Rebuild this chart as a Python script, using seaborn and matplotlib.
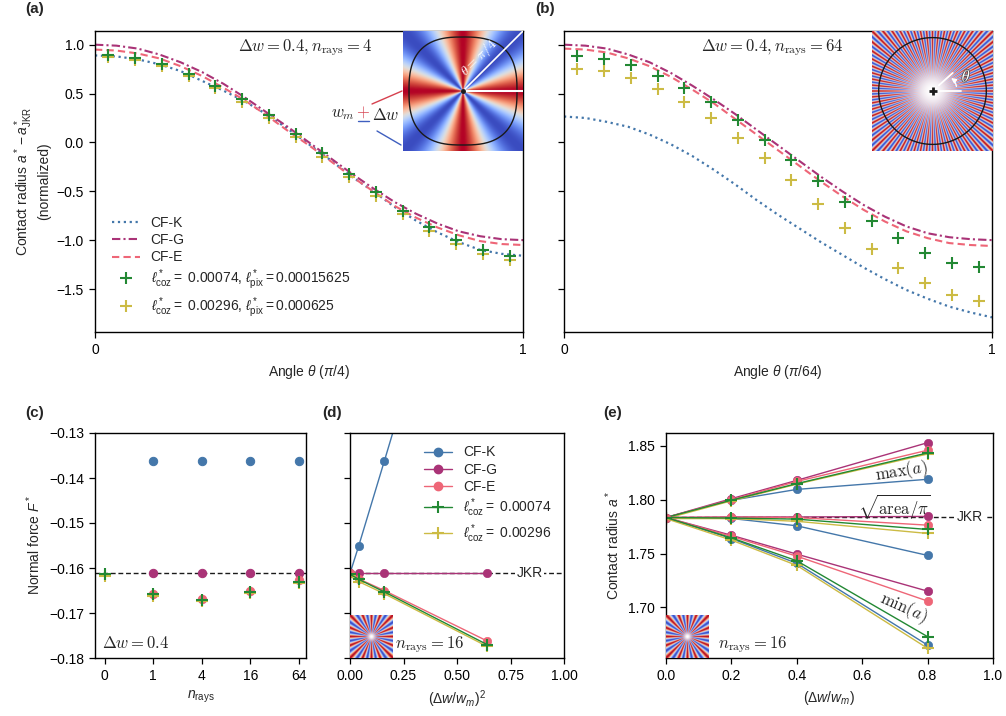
import numpy as np
import matplotlib
matplotlib.use('Agg')
import matplotlib.pyplot as plt
import seaborn as sns
from matplotlib.lines import Line2D
import matplotlib.patheffects as pe

# ---------------- data ----------------
theta_grid = np.linspace(0, 1, 21)
theta_pts = (np.arange(16) + 0.5) / 16

# panel (a): n_rays = 4
cfk_a = [0.89, 0.88, 0.85, 0.80, 0.73, 0.63, 0.53, 0.42, 0.29, 0.14, -0.02,
         -0.18, -0.35, -0.50, -0.66, -0.80, -0.92, -1.02, -1.10, -1.14, -1.16]
cfg_a = [1.00, 0.99, 0.96, 0.90, 0.82, 0.72, 0.60, 0.46, 0.31, 0.16, 0.00,
         -0.16, -0.32, -0.47, -0.61, -0.73, -0.83, -0.91, -0.96, -0.99, -1.00]
cfe_a = [0.95, 0.94, 0.91, 0.86, 0.78, 0.68, 0.56, 0.43, 0.28, 0.12, -0.03,
         -0.19, -0.35, -0.50, -0.65, -0.77, -0.87, -0.95, -1.01, -1.04, -1.05]
coz1_a = [0.89, 0.86, 0.80, 0.70, 0.58, 0.44, 0.28, 0.09, -0.11, -0.32, -0.51,
          -0.70, -0.87, -1.00, -1.10, -1.16]
coz2_a = [0.875, 0.84, 0.78, 0.68, 0.56, 0.415, 0.25, 0.06, -0.15, -0.35, -0.55,
          -0.73, -0.91, -1.04, -1.14, -1.20]

# panel (b): n_rays = 64
cfk_b = [0.265, 0.25, 0.21, 0.16, 0.08, -0.02, -0.14, -0.28, -0.43, -0.59, -0.74,
         -0.88, -1.02, -1.15, -1.28, -1.40, -1.51, -1.60, -1.68, -1.74, -1.79]
cfg_b = [1.00, 0.99, 0.96, 0.90, 0.82, 0.71, 0.58, 0.44, 0.29, 0.13, -0.03,
         -0.19, -0.35, -0.50, -0.64, -0.76, -0.86, -0.93, -0.97, -0.99, -1.00]
cfe_b = [0.96, 0.95, 0.92, 0.86, 0.78, 0.67, 0.54, 0.40, 0.24, 0.08, -0.08,
         -0.24, -0.40, -0.55, -0.69, -0.81, -0.91, -0.98, -1.03, -1.05, -1.06]
coz1_b = [0.88, 0.85, 0.79, 0.68, 0.56, 0.41, 0.23, 0.02, -0.18, -0.39, -0.61,
          -0.80, -0.98, -1.13, -1.23, -1.27]
coz2_b = [0.75, 0.73, 0.66, 0.55, 0.41, 0.25, 0.05, -0.16, -0.38, -0.63, -0.88,
          -1.09, -1.28, -1.44, -1.56, -1.62]

# panel (c): normal force vs n_rays (dw = 0.4)
nrays_labels = ['0', '1', '4', '16', '64']
f_cfk = [-0.1363, -0.1363, -0.1363, -0.1363]      # n_rays = 1..64
f_cfg = [-0.1612, -0.1612, -0.1612, -0.1612]
f_cfe = [-0.1657, -0.1668, -0.1650, -0.1626]
f_coz1 = [-0.1614, -0.1658, -0.1670, -0.1653, -0.1630]   # n_rays = 0..64
f_coz2 = [-0.1618, -0.1662, -0.1673, -0.1656, -0.1634]
f_jkr = -0.1612

# panel (d): normal force vs (dw/wm)^2 (n_rays = 16)
dw2 = [0, 0.04, 0.16, 0.64]
d_cfk = [-0.1612, -0.1552, -0.1363, -0.0600]
d_cfg = [-0.1612, -0.1612, -0.1612, -0.1612]
d_cfe = [-0.1612, -0.1624, -0.1650, -0.1762]
d_coz1 = [-0.1614, -0.1625, -0.1653, -0.1770]
d_coz2 = [-0.1618, -0.1630, -0.1657, -0.1774]

# panel (e): contact radius vs dw/wm (n_rays = 16)
dw = [0, 0.2, 0.4, 0.8]
a_jkr = 1.784
amax = {'K': [1.7835, 1.7995, 1.8096, 1.8190],
        'G': [1.7835, 1.8010, 1.8180, 1.8530],
        'E': [1.7835, 1.8000, 1.8170, 1.8460],
        'c2': [1.7825, 1.7990, 1.8145, 1.8425],
        'c1': [1.7835, 1.7996, 1.8150, 1.8435]}
amean = {'K': [1.7835, 1.7826, 1.7758, 1.7483],
         'G': [1.7835, 1.7840, 1.7840, 1.7845],
         'E': [1.7835, 1.7838, 1.7835, 1.7764],
         'c2': [1.7825, 1.7825, 1.7800, 1.7687],
         'c1': [1.7835, 1.7830, 1.7820, 1.7724]}
amin = {'K': [1.7835, 1.7640, 1.7410, 1.6650],
        'G': [1.7835, 1.7670, 1.7495, 1.7151],
        'E': [1.7835, 1.7660, 1.7476, 1.7059],
        'c2': [1.7825, 1.7625, 1.7390, 1.6620],
        'c1': [1.7835, 1.7646, 1.7433, 1.6728]}

C = {'K': '#4477AA', 'G': '#AA3377', 'E': '#EE6677', 'c1': '#228833', 'c2': '#CCBB44'}
DOT = ':'
DASHDOT = (0, (4, 1.5, 1, 1.5))
DASH = (0, (3.5, 2))

# ---------------- style ----------------
sns.set_theme(style='ticks')
plt.rcParams['font.family'] = ['Liberation Sans', 'DejaVu Sans']
plt.rcParams.update({
    'mathtext.fontset': 'custom',
    'mathtext.rm': 'Liberation Sans',
    'mathtext.it': 'Liberation Sans:italic',
    'mathtext.bf': 'Liberation Sans:bold',
    'font.size': 10, 'axes.labelsize': 10, 'xtick.labelsize': 10,
    'ytick.labelsize': 10, 'legend.fontsize': 10,
    'axes.linewidth': 1.0, 'xtick.major.size': 4.5, 'ytick.major.size': 4.5,
    'xtick.major.width': 0.9, 'ytick.major.width': 0.9,
    'axes.edgecolor': 'black', 'xtick.color': 'black', 'ytick.color': 'black',
    'axes.unicode_minus': True,
})

W, H = 1006, 716


def px(l, t, r, b):
    return [l / W, 1 - b / H, (r - l) / W, (b - t) / H]


def fx(x):
    return x / W


def fy(y):
    return 1 - y / H


def fmt(n):
    return matplotlib.ticker.FuncFormatter(lambda v, _: f'{v:.{n}f}'.replace('-', '\u2212'))


def ray_image(n, size, fade):
    yy, xx = np.mgrid[-1:1:size * 1j, -1:1:size * 1j]
    th = np.arctan2(yy, xx)
    r = np.hypot(xx, yy)
    rgba = plt.cm.coolwarm((np.cos(n * th) + 1) / 2)
    if fade > 0:
        w = np.exp(-(r / fade) ** 2)[..., None]
        rgba[..., :3] = rgba[..., :3] * (1 - w) + w
    return rgba


fig = plt.figure(figsize=(W / 100, H / 100), dpi=100)
ax_a = fig.add_axes(px(95, 31, 523, 332))
ax_b = fig.add_axes(px(564, 31, 992, 332), sharey=ax_a)
ax_c = fig.add_axes(px(95, 433, 306, 658))
ax_d = fig.add_axes(px(350, 433, 564, 658), sharey=ax_c)
ax_e = fig.add_axes(px(666, 433, 993, 658))

# ---------------- (a), (b) ----------------
for ax, k, g, e, c1, c2 in [(ax_a, cfk_a, cfg_a, cfe_a, coz1_a, coz2_a),
                            (ax_b, cfk_b, cfg_b, cfe_b, coz1_b, coz2_b)]:
    sns.lineplot(x=theta_grid, y=k, ax=ax, color=C['K'], linestyle=DOT, lw=1.6)
    sns.lineplot(x=theta_grid, y=g, ax=ax, color=C['G'], linestyle=DASHDOT, lw=1.5)
    sns.lineplot(x=theta_grid, y=e, ax=ax, color=C['E'], linestyle=DASH, lw=1.5)
    sns.lineplot(x=theta_pts, y=c2, ax=ax, color=C['c2'], linestyle='', marker='+',
                 ms=8, mew=1.5, mec=C['c2'])
    sns.lineplot(x=theta_pts, y=c1, ax=ax, color=C['c1'], linestyle='', marker='+',
                 ms=8, mew=1.5, mec=C['c1'])
    ax.set_xlim(0, 1)
    ax.set_xticks([0, 1], ['0', '1'])

ax_a.set_ylim(-1.94, 1.14)
ax_a.set_yticks([-1.5, -1.0, -0.5, 0.0, 0.5, 1.0])
ax_a.yaxis.set_major_formatter(fmt(1))
ax_b.tick_params(labelleft=False)
ax_a.set_xlabel(r'Angle $\theta$ $(\pi/4)$')
ax_b.set_xlabel(r'Angle $\theta$ $(\pi/64)$')
ax_a.set_ylabel('Contact radius $a^*-a^*_{\\rm JKR}$\n(normalized)')
ax_a.text(0.49, 0.944, r'$\Delta w = 0.4, n_{\rm rays} = 4$', transform=ax_a.transAxes,
          ha='center', va='center', fontsize=12, math_fontfamily='cm')
ax_b.text(0.486, 0.944, r'$\Delta w = 0.4, n_{\rm rays} = 64$', transform=ax_b.transAxes,
          ha='center', va='center', fontsize=12, math_fontfamily='cm')

handles_a = [Line2D([], [], color=C['K'], ls=DOT, lw=1.6),
             Line2D([], [], color=C['G'], ls=DASHDOT, lw=1.5),
             Line2D([], [], color=C['E'], ls=DASH, lw=1.5),
             Line2D([], [], color=C['c1'], ls='', marker='+', ms=8, mew=1.5),
             Line2D([], [], color=C['c2'], ls='', marker='+', ms=8, mew=1.5)]
labels_a = ['CF-K', 'CF-G', 'CF-E',
            r'$\ell^*_{\rm coz} =$ 0.00074, $\ell^*_{\rm pix} = 0.00015625$',
            r'$\ell^*_{\rm coz} =$ 0.00296, $\ell^*_{\rm pix} = 0.000625$']
ax_a.legend(handles_a, labels_a, loc='lower left', bbox_to_anchor=(0.01, 0.0),
            frameon=False, handlelength=2.0, labelspacing=0.22)

# inset (a)
ia = fig.add_axes(px(403, 31, 523, 151))
ia.imshow(ray_image(4, 300, 0), extent=[-1, 1, -1, 1], origin='lower',
          interpolation='bilinear', aspect='auto')
phi = np.linspace(0, 2 * np.pi, 400)
p = 2.7
rr = 0.9 / (np.abs(np.cos(phi)) ** p + np.abs(np.sin(phi)) ** p) ** (1 / p)
ia.plot(rr * np.cos(phi), rr * np.sin(phi), color='k', lw=1.0)
ia.plot([0, 1], [0, 0], color='w', lw=1.5)
ia.plot([0, 1], [0, 1], color='w', lw=1.2)
ia.plot([0], [0], marker='o', color='k', ms=2.5)
ia.text(0.26, 0.56, r'$\theta = \pi/4$', rotation=45, color='w', fontsize=10,
        ha='center', va='center', math_fontfamily='cm')
ia.set_xlim(-1, 1)
ia.set_ylim(-1, 1)
ia.set_axis_off()

fig.text(fx(343), fy(115), r'$w_m$', ha='center', va='center', fontsize=12,
         math_fontfamily='cm')
fig.text(fx(363), fy(112), r'$+$', ha='center', va='center', fontsize=12,
         color='#D6404E', math_fontfamily='cm')
fig.add_artist(Line2D([fx(358), fx(369)], [fy(121), fy(121)], color='#3F5FBF', lw=1.0))
fig.text(fx(386), fy(115), r'$\Delta w$', ha='center', va='center', fontsize=12,
         math_fontfamily='cm')
fig.add_artist(Line2D([fx(372), fx(402)], [fy(104), fy(91)], color='#D6404E', lw=1.0))
fig.add_artist(Line2D([fx(377), fx(401)], [fy(131), fy(145)], color='#3F5FBF', lw=1.0))

# inset (b)
ib = fig.add_axes(px(872, 31, 993, 151))
ib.imshow(ray_image(64, 700, 0.38), extent=[-1, 1, -1, 1], origin='lower',
          interpolation='antialiased', aspect='auto')
ib.plot(0.89 * np.cos(phi), 0.89 * np.sin(phi), color='k', lw=1.0)
ib.plot([0.08, 0.47], [0, 0], color='w', lw=1.3)
ang = np.deg2rad(42)
ib.plot([0.14 * np.cos(ang), 0.45 * np.cos(ang)], [0.14 * np.sin(ang), 0.45 * np.sin(ang)],
        color='w', lw=1.3)
ib.annotate('', xy=(0.36 * np.cos(ang), 0.36 * np.sin(ang)), xytext=(0.40, 0.03),
            arrowprops=dict(arrowstyle='-|>', color='w', lw=1.0,
                            connectionstyle='arc3,rad=0.3', mutation_scale=7))
ib.text(0.56, 0.24, r'$\theta$', color='w', fontsize=12, ha='center', va='center',
        math_fontfamily='cm',
        path_effects=[pe.withStroke(linewidth=1.2, foreground='#555555')])
ib.plot([0], [0], marker='+', color='k', ms=6, mew=2)
ib.set_xlim(-1, 1)
ib.set_ylim(-1, 1)
ib.set_axis_off()

# ---------------- (c) ----------------
pos = np.arange(5)
sns.lineplot(x=pos[1:], y=f_cfk, ax=ax_c, color=C['K'], linestyle='', marker='o',
             ms=6, mec=C['K'])
sns.lineplot(x=pos[1:], y=f_cfg, ax=ax_c, color=C['G'], linestyle='', marker='o',
             ms=6, mec=C['G'])
sns.lineplot(x=pos[1:], y=f_cfe, ax=ax_c, color=C['E'], linestyle='', marker='o',
             ms=6, mec=C['E'])
sns.lineplot(x=pos, y=f_coz2, ax=ax_c, color=C['c2'], linestyle='', marker='+',
             ms=8, mew=1.5, mec=C['c2'])
sns.lineplot(x=pos, y=f_coz1, ax=ax_c, color=C['c1'], linestyle='', marker='+',
             ms=8, mew=1.5, mec=C['c1'])
ax_c.axhline(f_jkr, color='k', lw=1.0, ls=(0, (3.5, 2)), zorder=1)
ax_c.set_xticks(pos, nrays_labels)
ax_c.set_xlim(-0.2, 4.15)
ax_c.set_ylim(-0.18, -0.13)
ax_c.set_yticks([-0.18, -0.17, -0.16, -0.15, -0.14, -0.13])
ax_c.yaxis.set_major_formatter(fmt(2))
ax_c.set_xlabel(r'$n_{\rm rays}$')
ax_c.set_ylabel(r'Normal force $F^*$')
ax_c.text(0.035, 0.065, r'$\Delta w = 0.4$', transform=ax_c.transAxes, ha='left',
          va='center', fontsize=12, math_fontfamily='cm')

# ---------------- (d) ----------------
series_d = [('K', d_cfk, 'o'), ('G', d_cfg, 'o'), ('E', d_cfe, 'o'),
            ('c2', d_coz2, '+'), ('c1', d_coz1, '+')]
for key, vals, m in series_d:
    sns.lineplot(x=dw2, y=vals, ax=ax_d, color=C[key], lw=1.0, marker=m,
                 ms=6 if m == 'o' else 8, mew=1.5 if m == '+' else 0.5, mec=C[key])
ax_d.axhline(f_jkr, color='k', lw=1.0, ls=(0, (3.5, 2)), zorder=1)
ax_d.text(0.84, f_jkr, 'JKR', ha='center', va='center', fontsize=10,
          bbox=dict(facecolor='white', edgecolor='none', pad=1.0))
ax_d.set_xlim(0, 1)
ax_d.set_xticks([0, 0.25, 0.5, 0.75, 1.0], ['0.00', '0.25', '0.50', '0.75', '1.00'])
ax_d.tick_params(labelleft=False)
ax_d.set_xlabel(r'$(\Delta w/w_m)^2$')
handles_d = [Line2D([], [], color=C['K'], lw=1.0, marker='o', ms=6),
             Line2D([], [], color=C['G'], lw=1.0, marker='o', ms=6),
             Line2D([], [], color=C['E'], lw=1.0, marker='o', ms=6),
             Line2D([], [], color=C['c1'], lw=1.0, marker='+', ms=8, mew=1.5),
             Line2D([], [], color=C['c2'], lw=1.0, marker='+', ms=8, mew=1.5)]
labels_d = ['CF-K', 'CF-G', 'CF-E', r'$\ell^*_{\rm coz} =$ 0.00074',
            r'$\ell^*_{\rm coz} =$ 0.00296']
ax_d.legend(handles_d, labels_d, loc='upper right', bbox_to_anchor=(1.0, 1.0),
            frameon=False, handlelength=2.0, labelspacing=0.22)

# ---------------- (e) ----------------
for group in (amax, amean, amin):
    for key in ('K', 'G', 'E', 'c2', 'c1'):
        m = '+' if key.startswith('c') else 'o'
        sns.lineplot(x=dw, y=group[key], ax=ax_e, color=C[key], lw=1.0, marker=m,
                     ms=6 if m == 'o' else 8, mew=1.5 if m == '+' else 0.5, mec=C[key])
ax_e.axhline(a_jkr, color='k', lw=1.0, ls=(0, (3.5, 2)), zorder=1)
ax_e.text(0.93, a_jkr, 'JKR', ha='center', va='center', fontsize=10,
          bbox=dict(facecolor='white', edgecolor='none', pad=1.0))
ax_e.text(0.72, 1.8265, r'$\max(a)$', rotation=9, ha='center', va='center',
          fontsize=12, math_fontfamily='cm')
ax_e.text(0.70, 1.7925, r'$\sqrt{\mathrm{area}/\pi}$', ha='center', va='center',
          fontsize=12, math_fontfamily='cm')
ax_e.text(0.725, 1.700, r'$\min(a)$', rotation=-24, ha='center', va='center',
          fontsize=12, math_fontfamily='cm')
ax_e.set_xlim(0, 1)
ax_e.set_xticks([0, 0.2, 0.4, 0.6, 0.8, 1.0])
ax_e.xaxis.set_major_formatter(fmt(1))
ax_e.set_ylim(1.653, 1.862)
ax_e.set_yticks([1.70, 1.75, 1.80, 1.85])
ax_e.yaxis.set_major_formatter(fmt(2))
ax_e.set_xlabel(r'$(\Delta w/w_m)$')
ax_e.set_ylabel(r'Contact radius $a^*$')

# small n_rays = 16 insets in (d) and (e)
for l, r in [(350, 393), (666, 709)]:
    ins = fig.add_axes(px(l, 615, r, 658))
    ins.imshow(ray_image(16, 300, 0.18), extent=[-1, 1, -1, 1], origin='lower',
               interpolation='antialiased', aspect='auto')
    ins.set_axis_off()
ax_d.text(0.21, 0.06, r'$n_{\rm rays} = 16$', transform=ax_d.transAxes, ha='left',
          va='center', fontsize=12, math_fontfamily='cm')
ax_e.text(0.16, 0.06, r'$n_{\rm rays} = 16$', transform=ax_e.transAxes, ha='left',
          va='center', fontsize=12, math_fontfamily='cm')

# panel letters
for lab, x, y in [('(a)', 25, 9), ('(b)', 535, 9), ('(c)', 25, 413),
                  ('(d)', 322, 413), ('(e)', 603, 413)]:
    fig.text(fx(x), fy(y), lab, fontsize=11, fontweight='bold', va='center', ha='left')

fig.savefig('out.png', dpi=100)
